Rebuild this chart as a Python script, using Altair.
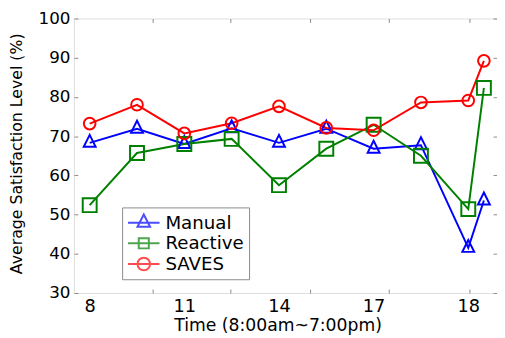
import altair as alt
import pandas as pd

# ---- data ----
x_index = [1, 2, 3, 4, 5, 6, 7, 8, 9, 9.33]
manual = [68.3, 71.9, 68.0, 72.0, 68.3, 71.9, 66.8, 67.7, 41.5, 53.6]
reactive = [52.4, 65.7, 68.0, 69.3, 57.5, 66.8, 72.9, 65.0, 51.4, 82.3]
saves = [73.2, 78.0, 70.7, 73.3, 77.6, 72.1, 71.5, 78.6, 79.1, 89.2]

series = ["Manual", "Reactive", "SAVES"]
colors = ["#0000FF", "#008000", "#FF0000"]
marker_shapes = ["M0,-1L0.75,0.5L-0.75,0.5Z", "square", "circle"]
marker_sizes = [260, 140, 175]
legend_shapes = [
    "M-1,0H1M0,-0.52L0.4,0.26H-0.4Z",
    "M-1,0H1M-0.32,-0.32H0.32V0.32H-0.32Z",
    "M-1,0H1M-0.4,0A0.4,0.4 0 1,0 0.4,0A0.4,0.4 0 1,0 -0.4,0Z",
]

x_label_pos = [1, 3, 5, 7, 9]
x_labels = ["8", "11", "14", "17", "18"]
x_tick_pos = [2.32, 3.98, 5.66, 7.33, 9.02]
x_domain = [0.667, 9.607]
y_ticks = [30, 40, 50, 60, 70, 80, 90, 100]
y_domain = [30, 100]

rows = []
for name, vals in zip(series, [manual, reactive, saves]):
    for xi, v in zip(x_index, vals):
        rows.append({"t": xi, "v": v, "series": name})
df = pd.DataFrame(rows)

FONT = "DejaVu Sans"
GRAY = "#8a8a8a"

xs = alt.Scale(domain=x_domain, nice=False, zero=False)
ys = alt.Scale(domain=y_domain, nice=False, zero=False)
cs = alt.Scale(domain=series, range=colors)

label_expr = " : ".join(
    f"datum.value == {p} ? '{l}'" for p, l in zip(x_label_pos, x_labels)
) + " : ''"

base = alt.Chart(df)

lines = base.mark_line(strokeWidth=2).encode(
    x=alt.X("t:Q", scale=xs, axis=alt.Axis(
        orient="bottom", values=x_tick_pos, labels=False, domain=False,
        grid=False, ticks=True, tickSize=4, offset=-4, tickColor=GRAY,
        title=None)),
    y=alt.Y("v:Q", scale=ys, axis=alt.Axis(
        orient="left", values=y_ticks, domain=False, grid=False,
        tickSize=4, offset=-4, tickColor=GRAY, labelPadding=4,
        labelFont=FONT, labelFontSize=17, labelColor="black",
        title="Average Satisfaction Level (%)", titleFont=FONT,
        titleFontSize=16, titleFontWeight="normal", titleColor="black",
        titleX=-62, titleY=137, titleBaseline="middle", titleAngle=-90,
        titleAlign="center")),
    color=alt.Color("series:N", scale=cs, legend=None),
)

points = base.mark_point(filled=False, strokeWidth=2, opacity=1).encode(
    x=alt.X("t:Q", scale=xs, axis=alt.Axis(
        orient="top", values=x_tick_pos, labels=False, domain=False,
        grid=False, tickSize=4, offset=-4, tickColor=GRAY, title=None)),
    y=alt.Y("v:Q", scale=ys, axis=alt.Axis(
        orient="right", values=y_ticks, labels=False, domain=False,
        grid=False, tickSize=4, offset=-4, tickColor=GRAY, title=None)),
    color=alt.Color("series:N", scale=cs, legend=None),
    shape=alt.Shape("series:N", scale=alt.Scale(domain=series, range=marker_shapes), legend=None),
    size=alt.Size("series:N", scale=alt.Scale(domain=series, range=marker_sizes), legend=None),
)

leg = alt.Legend(
    orient="none", legendX=49, legendY=192, title=None,
    symbolSize=1024, symbolStrokeWidth=2, labelFont=FONT, labelFontSize=18.5,
    labelColor="black", labelOffset=5, strokeColor=GRAY, fillColor="white",
    padding=5, rowPadding=0, clipHeight=21,
)

legend_layer = base.transform_filter("false").mark_point(filled=False, strokeWidth=2).encode(
    x=alt.X("t:Q", scale=xs, axis=alt.Axis(
        orient="bottom", values=x_label_pos, labelExpr=label_expr,
        ticks=False, tickSize=0, domain=False, grid=False, labelPadding=5,
        labelFont=FONT, labelFontSize=18, labelColor="black",
        title="Time (8:00am~7:00pm)", titleFont=FONT, titleFontSize=17.5,
        titleFontWeight="normal", titleColor="black", titleX=207,
        titleY=38, titleBaseline="alphabetic", titleAlign="center")),
    y=alt.Y("v:Q", scale=ys, axis=None),
    color=alt.Color("series:N", scale=cs, legend=leg),
    shape=alt.Shape("series:N", scale=alt.Scale(domain=series, range=legend_shapes), legend=leg),
)

chart = alt.layer(lines, points, legend_layer).resolve_scale(
    color="independent", shape="independent"
).resolve_axis(
    x="independent", y="independent"
).properties(
    width=430, height=279,
    autosize=alt.AutoSizeParams(type="none"),
    padding={"left": 67, "top": 8, "right": 0, "bottom": 41},
).configure_view(
    stroke=GRAY, strokeWidth=1
).configure(background="white")

chart.save("out.html", embed_options={"renderer": "svg", "actions": False})
